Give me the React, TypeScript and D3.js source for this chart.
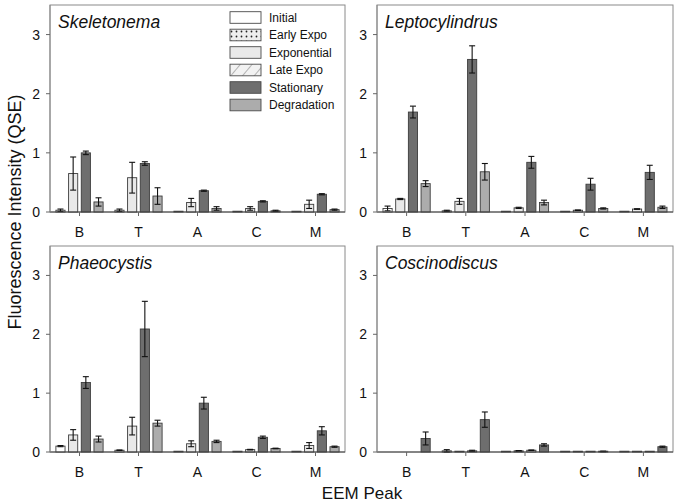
import React from "react";
import * as d3 from "d3";

const peaks = ["B", "T", "A", "C", "M"];
const yTicks = [0, 1, 2, 3];
const legendPhases = ["Initial", "Early Expo", "Exponential", "Late Expo", "Stationary", "Degradation"];

const skeletonemaPhases = ["Initial", "Exponential", "Stationary", "Degradation"];
const skeletonemaMeans = [
  [0.03, 0.03, 0.005, 0.003, 0.01],
  [0.65, 0.58, 0.16, 0.06, 0.13],
  [1.0, 0.82, 0.36, 0.18, 0.3],
  [0.17, 0.27, 0.06, 0.02, 0.04],
];
const skeletonemaErrors = [
  [0.02, 0.02, 0, 0, 0],
  [0.28, 0.26, 0.07, 0.03, 0.07],
  [0.03, 0.03, 0.01, 0.01, 0.01],
  [0.07, 0.14, 0.03, 0.01, 0.01],
];

const leptoPhases = ["Initial", "Exponential", "Stationary", "Degradation"];
const leptoMeans = [
  [0.06, 0.02, 0.005, 0.003, 0.005],
  [0.22, 0.18, 0.07, 0.03, 0.05],
  [1.69, 2.58, 0.84, 0.47, 0.67],
  [0.48, 0.68, 0.16, 0.06, 0.08],
];
const leptoErrors = [
  [0.04, 0.01, 0, 0, 0],
  [0.01, 0.05, 0.01, 0.005, 0.005],
  [0.1, 0.23, 0.1, 0.1, 0.12],
  [0.05, 0.14, 0.04, 0.01, 0.02],
];

const phaeoPhases = ["Initial", "Exponential", "Stationary", "Degradation"];
const phaeoMeans = [
  [0.1, 0.03, 0.01, 0.005, 0.005],
  [0.29, 0.44, 0.14, 0.04, 0.11],
  [1.18, 2.09, 0.83, 0.25, 0.36],
  [0.22, 0.49, 0.18, 0.06, 0.09],
];
const phaeoErrors = [
  [0.01, 0.005, 0, 0, 0],
  [0.09, 0.15, 0.05, 0.005, 0.05],
  [0.1, 0.47, 0.1, 0.02, 0.07],
  [0.05, 0.05, 0.02, 0.005, 0.01],
];

const coscinoPhases = ["Initial", "Early Expo", "Late Expo", "Stationary"];
const coscinoMeans = [
  [0, 0.02, 0.005, 0.005, 0.005],
  [0, 0.005, 0.02, 0.005, 0.005],
  [0, 0.02, 0.03, 0.01, 0.01],
  [0.23, 0.55, 0.12, 0.01, 0.09],
];
const coscinoErrors = [
  [0, 0.02, 0, 0, 0],
  [0, 0, 0.005, 0, 0],
  [0, 0.01, 0.005, 0, 0],
  [0.11, 0.13, 0.02, 0.005, 0.01],
];

const FONT = "'Liberation Sans', Arial, sans-serif";

const phaseFill: Record<string, string> = {
  Initial: "#ffffff",
  "Early Expo": "url(#dots)",
  Exponential: "#e9e9e9",
  "Late Expo": "url(#hatch)",
  Stationary: "#6e6e6e",
  Degradation: "#acacac",
};

type PanelProps = {
  title: string;
  phases: string[];
  means: number[][];
  errors: number[][];
  left: number;
  right: number;
  top: number;
  bottom: number;
  legend?: boolean;
};

function Panel({ title, phases, means, errors, left, right, top, bottom, legend }: PanelProps) {
  const x = d3.scaleBand<string>().domain(peaks).range([left, right]).padding(0);
  const y = d3.scaleLinear().domain([0, 3.5]).range([bottom, top]);
  const sub = d3
    .scaleBand<string>()
    .domain(phases)
    .range([-23.6, 23.6])
    .paddingInner(0.28)
    .paddingOuter(0);
  const bw = sub.bandwidth();
  const capW = 6;

  return (
    <g>
      <rect x={left} y={top} width={right - left} height={bottom - top} fill="#fff" stroke="#8a8a8a" strokeWidth={1} />
      {phases.map((ph, pi) =>
        peaks.map((pk, ki) => {
          const v = means[pi][ki];
          if (v <= 0) return null;
          const cx = (x(pk) as number) + x.bandwidth() / 2;
          const bx = cx + (sub(ph) as number);
          const y0 = y(v);
          const h = Math.max(y(0) - y0, 0.8);
          return (
            <rect
              key={`b-${pi}-${ki}`}
              x={bx}
              y={y(0) - h}
              width={bw}
              height={h}
              fill={phaseFill[ph]}
              stroke="#3c3c3c"
              strokeWidth={0.9}
            />
          );
        })
      )}
      {phases.map((ph, pi) =>
        peaks.map((pk, ki) => {
          const v = means[pi][ki];
          const e = errors[pi][ki];
          if (v <= 0 || e <= 0) return null;
          const cx = (x(pk) as number) + x.bandwidth() / 2;
          const mx = cx + (sub(ph) as number) + bw / 2;
          const yt = y(v + e);
          const yb = y(Math.max(v - e, 0));
          return (
            <g key={`e-${pi}-${ki}`} stroke="#111" strokeWidth={1.1}>
              <line x1={mx} x2={mx} y1={yt} y2={yb} />
              <line x1={mx - capW / 2} x2={mx + capW / 2} y1={yt} y2={yt} />
              <line x1={mx - capW / 2} x2={mx + capW / 2} y1={yb} y2={yb} />
            </g>
          );
        })
      )}
      <line x1={left} x2={right} y1={y(0)} y2={y(0)} stroke="#444" strokeWidth={1} />
      <line x1={left} x2={left} y1={top} y2={bottom} stroke="#8a8a8a" strokeWidth={1} />
      {yTicks.map((t) => (
        <g key={`yt-${t}`}>
          <line x1={left - 4} x2={left} y1={y(t)} y2={y(t)} stroke="#666" strokeWidth={1} />
          <text x={left - 10} y={y(t) + 5} textAnchor="end" fontSize={14} fontFamily={FONT} fill="#111">
            {t}
          </text>
        </g>
      ))}
      {peaks.map((pk) => {
        const cx = (x(pk) as number) + x.bandwidth() / 2;
        return (
          <g key={`xt-${pk}`}>
            <line x1={cx} x2={cx} y1={y(0)} y2={y(0) + 4} stroke="#666" strokeWidth={1} />
            <text x={cx} y={y(0) + 25} textAnchor="middle" fontSize={14} fontFamily={FONT} fill="#111">
              {pk}
            </text>
          </g>
        );
      })}
      <text x={left + 8} y={top + 23} fontSize={17.5} fontStyle="italic" fontFamily={FONT} fill="#111">
        {title}
      </text>
      {legend &&
        legendPhases.map((ph, i) => {
          const cy = 17.5 + i * 17.5;
          return (
            <g key={`lg-${ph}`}>
              <rect x={230} y={cy - 5.8} width={31} height={11.6} fill={phaseFill[ph]} stroke="#4a4a4a" strokeWidth={0.9} />
              <text x={269} y={cy + 4.3} fontSize={12} fontFamily={FONT} fill="#111">
                {ph}
              </text>
            </g>
          );
        })}
    </g>
  );
}

export default function App() {
  return (
    <svg
      width={679}
      height={504}
      viewBox="0 0 679 504"
      style={{ position: "absolute", left: 0, top: 0, background: "#fff" }}
    >
      <defs>
        <pattern id="dots" patternUnits="userSpaceOnUse" width={5} height={5}>
          <rect width={5} height={5} fill="#eeeeee" />
          <circle cx={1.5} cy={1.5} r={0.9} fill="#222" />
        </pattern>
        <pattern id="hatch" patternUnits="userSpaceOnUse" width={9} height={9} patternTransform="rotate(40)">
          <rect width={9} height={9} fill="#f2f2f2" />
          <line x1={0} y1={0} x2={0} y2={9} stroke="#555" strokeWidth={0.8} />
        </pattern>
      </defs>
      <rect width={679} height={504} fill="#fff" />
      <Panel
        title="Skeletonema"
        phases={skeletonemaPhases}
        means={skeletonemaMeans}
        errors={skeletonemaErrors}
        left={50}
        right={345}
        top={5}
        bottom={212}
        legend
      />
      <Panel
        title="Leptocylindrus"
        phases={leptoPhases}
        means={leptoMeans}
        errors={leptoErrors}
        left={377}
        right={673}
        top={5}
        bottom={212}
      />
      <Panel
        title="Phaeocystis"
        phases={phaeoPhases}
        means={phaeoMeans}
        errors={phaeoErrors}
        left={50}
        right={345}
        top={246}
        bottom={452}
      />
      <Panel
        title="Coscinodiscus"
        phases={coscinoPhases}
        means={coscinoMeans}
        errors={coscinoErrors}
        left={377}
        right={673}
        top={246}
        bottom={452}
      />
      <text
        transform="translate(21,212) rotate(-90)"
        textAnchor="middle"
        fontSize={18}
        fontFamily={FONT}
        fill="#111"
      >
        Fluorescence Intensity (QSE)
      </text>
      <text x={362} y={499} textAnchor="middle" fontSize={17} fontFamily={FONT} fill="#111">
        EEM Peak
      </text>
    </svg>
  );
}
